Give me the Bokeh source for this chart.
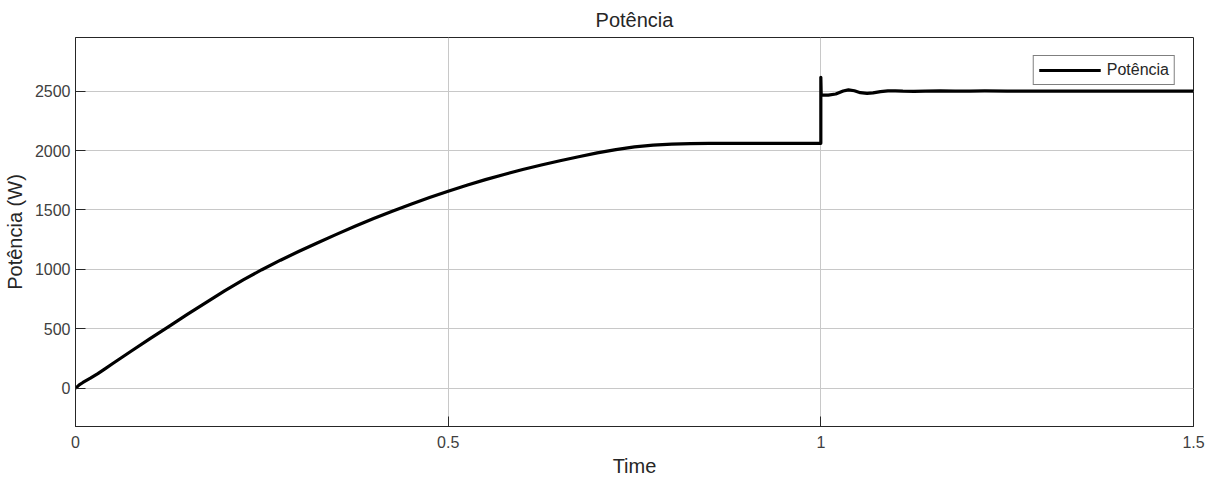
from bokeh.plotting import figure
from bokeh.models import Range1d, FixedTicker, Legend, LegendItem
from bokeh.embed import file_html
from bokeh.resources import INLINE

# Simulated power output (W) over time (s)
time_s = [0.0, 0.005, 0.01, 0.02, 0.03, 0.04, 0.05, 0.075, 0.1, 0.125,
          0.15, 0.175, 0.2, 0.225, 0.25, 0.275, 0.3, 0.325, 0.35, 0.375,
          0.4, 0.425, 0.45, 0.475, 0.5, 0.525, 0.55, 0.575, 0.6, 0.625,
          0.65, 0.675, 0.7, 0.725, 0.75, 0.775, 0.8, 0.825, 0.85, 0.9,
          0.95, 1.0, 1.0, 1.0005, 1.01, 1.02, 1.03, 1.037, 1.045, 1.053,
          1.062, 1.07, 1.08, 1.09, 1.1, 1.11, 1.125, 1.14, 1.16, 1.18,
          1.2, 1.22, 1.25, 1.3, 1.35, 1.5]
power_w = [0, 30, 50, 86, 125, 167, 210, 315, 418, 520,
           622, 722, 820, 912, 998, 1078, 1153, 1225, 1295, 1363,
           1428, 1490, 1549, 1605, 1658, 1708, 1755, 1799, 1840, 1878,
           1914, 1948, 1980, 2008, 2030, 2045, 2054, 2058, 2060, 2060,
           2060, 2060, 2615, 2465, 2466, 2475, 2500, 2510, 2502, 2486,
           2480, 2484, 2495, 2502, 2502, 2499, 2497, 2499, 2501, 2499,
           2500, 2501, 2499, 2500, 2500, 2500]

x_ticks = [0, 0.5, 1, 1.5]
x_tick_labels = {0: "0", 0.5: "0.5", 1: "1", 1.5: "1.5"}
y_ticks = [0, 500, 1000, 1500, 2000, 2500]

FONT = "Liberation Sans"
DARK = "#262626"

p = figure(width=1219, height=480, output_backend="svg", toolbar_location=None,
           x_range=Range1d(0, 1.5), y_range=Range1d(-320, 2950),
           min_border_left=75, min_border_right=26, min_border_top=37,
           min_border_bottom=54)

p.title.text = "Potência"
p.title.align = "center"
p.title.vertical_align = "top"
p.title.text_font = FONT
p.title.text_font_size = "20px"
p.title.text_font_style = "normal"
p.title.text_color = DARK
p.title.standoff = 10

line = p.line(time_s, power_w, line_color="black", line_width=3.2,
              line_join="round")

for ax in (p.xaxis[0], p.yaxis[0]):
    ax.axis_line_color = DARK
    ax.major_tick_line_color = DARK
    ax.major_tick_in = 10
    ax.major_tick_out = 0
    ax.minor_tick_line_color = None
    ax.major_label_text_font = FONT
    ax.major_label_text_font_size = "16px"
    ax.major_label_text_color = "#404040"
    ax.axis_label_text_font = FONT
    ax.axis_label_text_font_size = "20px"
    ax.axis_label_text_font_style = "normal"
    ax.axis_label_text_color = DARK

p.xaxis.ticker = FixedTicker(ticks=x_ticks)
p.xaxis.major_label_overrides = x_tick_labels
p.xaxis.axis_label = "Time"
p.xaxis.major_label_standoff = 9
p.xaxis.axis_label_standoff = 4

p.yaxis.ticker = FixedTicker(ticks=y_ticks)
p.yaxis.axis_label = "Potência (W)"
p.yaxis.major_label_standoff = 5
p.yaxis.axis_label_standoff = 6

p.xgrid.ticker = FixedTicker(ticks=x_ticks)
p.ygrid.ticker = FixedTicker(ticks=y_ticks)
p.grid.grid_line_color = "#c8c8c8"
p.grid.grid_line_width = 1

p.outline_line_color = DARK
p.outline_line_width = 1

legend = Legend(items=[LegendItem(label="Potência", renderers=[line])],
                location="top_right", margin=18, padding=5, spacing=0,
                glyph_width=62, glyph_height=16, label_height=16,
                label_standoff=6, label_text_font=FONT,
                label_text_font_size="16px", label_text_color=DARK,
                border_line_color="black", border_line_width=1,
                background_fill_color="white", background_fill_alpha=1)
p.add_layout(legend, "center")

open("out.html", "w").write(file_html(p, INLINE))
